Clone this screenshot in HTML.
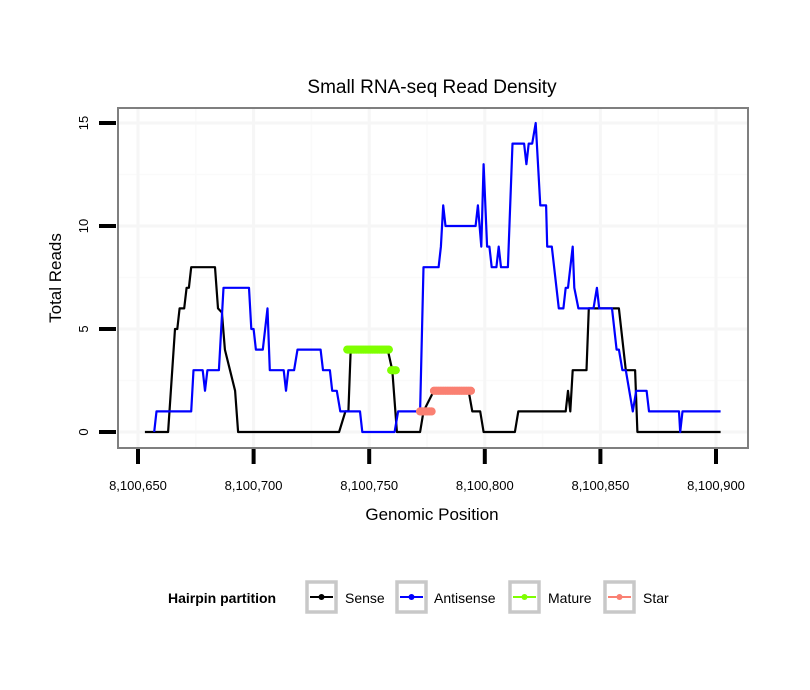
<!DOCTYPE html>
<html><head><meta charset="utf-8">
<style>
html,body{margin:0;padding:0;background:#fff;}
svg{display:block;font-family:"Liberation Sans",sans-serif;}
</style></head>
<body>
<svg id="chart" width="810" height="690" viewBox="0 0 810 690" xmlns="http://www.w3.org/2000/svg">
<rect width="810" height="690" fill="#fff"/>
<text x="432" y="93" font-size="19" text-anchor="middle">Small RNA-seq Read Density</text>
<rect x="118" y="108" width="630" height="340" fill="#fff"/>
<g id="grid"></g>
<g id="series"></g>
<rect x="118" y="108" width="630" height="340" fill="none" stroke="#7f7f7f" stroke-width="2"/>
<g id="axes"></g>
<text x="432" y="520" font-size="17" text-anchor="middle">Genomic Position</text>
<text transform="translate(61,278) rotate(-90)" font-size="17" text-anchor="middle">Total Reads</text>
<g>
<text x="168" y="603" font-size="14" font-weight="bold">Hairpin partition</text>
<g>
<rect x="307" y="582" width="29" height="30" fill="#fff" stroke="#c8c8c8" stroke-width="3.5"/>
<line x1="310" y1="597" x2="333" y2="597" stroke="#000" stroke-width="2"/><circle cx="321.5" cy="597" r="3" fill="#000"/>
<text x="345" y="603" font-size="14">Sense</text></g>
<g>
<rect x="397" y="582" width="29" height="30" fill="#fff" stroke="#c8c8c8" stroke-width="3.5"/>
<line x1="400" y1="597" x2="423" y2="597" stroke="#00f" stroke-width="2"/><circle cx="411.5" cy="597" r="3" fill="#00f"/>
<text x="434" y="603" font-size="14">Antisense</text></g>
<g>
<rect x="510" y="582" width="29" height="30" fill="#fff" stroke="#c8c8c8" stroke-width="3.5"/>
<line x1="513" y1="597" x2="536" y2="597" stroke="#7fff00" stroke-width="2"/><circle cx="524.5" cy="597" r="3" fill="#7fff00"/>
<text x="548" y="603" font-size="14">Mature</text></g>
<g>
<rect x="605" y="582" width="29" height="30" fill="#fff" stroke="#c8c8c8" stroke-width="3.5"/>
<line x1="608" y1="597" x2="631" y2="597" stroke="#fa8072" stroke-width="2"/><circle cx="619.5" cy="597" r="3" fill="#fa8072"/>
<text x="643" y="603" font-size="14">Star</text></g>
</g>
</svg>
<script>
const xTicks=[650,700,750,800,850,900];
const xTickLabels=["8,100,650","8,100,700","8,100,750","8,100,800","8,100,850","8,100,900"];
const yTicks=[0,5,10,15];
const sensePos=[653,663,666,667,668,670,671,672,673,683.3,684.6,686.3,687.6,689.8,692,693.3,737,739.7,741,742,758,760,762,772,773.5,778,793,794.6,798,799.5,813,814.5,835,836,837,838,844,845,858,861,865,866,902];
const senseVal=[0,0,5,5,6,6,7,7,8,8,6,5.8,4,3,2,0,0,1,1,4,4,3,0,0,1,2,2,1,1,0,0,1,1,2,1,3,3,6,6,3,3,0,0];
const antiPos=[657,658,673,674,678,679,680,685,687,698,699,700,701,704,706,707,713,714,715,717.5,719,729,730,733,734,736,737.5,746,747,761,762.5,772,773.5,780,781,782,783,796,797,798.5,799.5,801,802,803,805,806,807,810,812,817,818,819,820.5,822,824,826.5,827,829,832,834,835,836,838,838.7,840.5,847,848.5,849.5,855,857,858,859.5,861,864,865.5,870,871,884,884.5,885.5,902];
const antiVal=[0,1,1,3,3,2,3,3,7,7,5,5,4,4,6,3,3,2,3,3,4,4,3,3,2,2,1,1,0,0,1,1,8,8,9,11,10,10,11,9,13,9,9,8,8,9,8,8,14,14,13,14,14,15,11,11,9,9,6,6,7,7,9,7,6,6,7,6,6,4,4,3,3,1,2,2,1,1,0,1,1];
const maturePos=[740.5,741.5,742.5,743.5,744.5,745.5,746.5,747.5,748.5,749.5,750.5,751.5,752.5,753.5,754.5,755.5,756.5,757.5,758.5,759.5,760.5,761.5];
const matureVal=[4,4,4,4,4,4,4,4,4,4,4,4,4,4,4,4,4,4,4,3,3,3];
const starPos=[772,773,774,775,776,777,778,779,780,781,782,783,784,785,786,787,788,789,790,791,792,793,794];
const starVal=[1,1,1,1,1,1,2,2,2,2,2,2,2,2,2,2,2,2,2,2,2,2,2];

const NS="http://www.w3.org/2000/svg";
const X=p=>138+(p-650)*2.312;
const Y=v=>432-v*20.6;
function mk(tag,attrs,parent){const e=document.createElementNS(NS,tag);for(const k in attrs)e.setAttribute(k,attrs[k]);parent.appendChild(e);return e;}
const grid=document.getElementById('grid'),axes=document.getElementById('axes'),ser=document.getElementById('series');
for(let i=0;i<xTicks.length-1;i++){const gx=X((xTicks[i]+xTicks[i+1])/2);
 const l=mk('line',{x1:gx,x2:gx,y1:109,y2:447,stroke:'#fafafa','stroke-width':1.5},grid);
 
 }
for(let i=0;i<yTicks.length-1;i++){const gy=Y((yTicks[i]+yTicks[i+1])/2);
 const l=mk('line',{x1:119,x2:747,y1:gy,y2:gy,stroke:'#fafafa','stroke-width':1.5},grid);
 
 }
xTicks.forEach((t,i)=>{const gx=X(t);
 if(gx>119&&gx<747){const g=mk('line',{x1:gx,x2:gx,y1:109,y2:447,stroke:'#f6f6f6','stroke-width':3},grid);
 
 }
 const tk=mk('line',{x1:gx,x2:gx,y1:449,y2:464,stroke:'#000','stroke-width':4},axes);
 
 
 const tl=mk('text',{x:gx,y:490,'font-size':13,'text-anchor':'middle'},axes);tl.textContent=xTickLabels[i];
 
 });
yTicks.forEach(t=>{const gy=Y(t);
 const g=mk('line',{x1:119,x2:747,y1:gy,y2:gy,stroke:'#f6f6f6','stroke-width':3},grid);
 
 
 const tk=mk('line',{x1:99,x2:116,y1:gy,y2:gy,stroke:'#000','stroke-width':4},axes);
 
 
 const tl=mk('text',{transform:`translate(88,${gy}) rotate(-90)`,'font-size':13,'text-anchor':'middle'},axes);tl.textContent=t;
 
 });
function path(pos,val){return pos.map((p,i)=>(i?'L':'M')+X(p).toFixed(1)+','+Y(val[i]).toFixed(1)).join('');}
const sl=mk('path',{d:path(sensePos,senseVal),fill:'none',stroke:'#000','stroke-width':2.2,'stroke-linejoin':'round'},ser);


const al=mk('path',{d:path(antiPos,antiVal),fill:'none',stroke:'#00f','stroke-width':2.2,'stroke-linejoin':'round'},ser);


function dots(pos,val,col,name){
 let s=0;
 for(let i=1;i<=pos.length;i++){
  if(i===pos.length||val[i]!==val[s]){
   const l=mk('line',{x1:X(pos[s]),x2:X(pos[i-1]),y1:Y(val[s]),y2:Y(val[s]),stroke:col,'stroke-width':8,'stroke-linecap':'round'},ser);
   
   
   s=i;}
 }
 pos.forEach((p,i)=>{
 const c=mk('circle',{cx:X(p),cy:Y(val[i]),r:4,fill:col},ser);
 
 });
}
dots(maturePos,matureVal,'#7fff00','mature-point');
dots(starPos,starVal,'#fa8072','star-point');
</script>
</body></html>
